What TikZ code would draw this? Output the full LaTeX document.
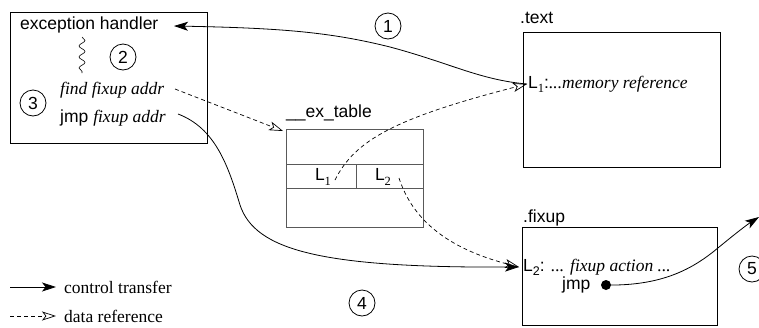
\documentclass[tikz,border=0pt]{standalone}
\usepackage{fontspec}
\setmainfont{Liberation Sans}
\newfontfamily\tms{Liberation Serif}
\usetikzlibrary{arrows.meta,decorations.pathmorphing}
\newcommand\lsub[1]{\raisebox{-0.45ex}{\fontsize{12.5}{12.5}\selectfont #1}}
\begin{document}
\begin{tikzpicture}[x=1pt,y=-1pt,
  every node/.style={font=\fontsize{17.5}{20}\selectfont, inner sep=0pt},
  lbl/.style={anchor=west},
  num/.style={draw, circle, minimum size=26pt, line width=0.8pt},
  frame/.style={draw, line width=0.8pt, anchor=north west},
  tline/.style={draw=black!65, line width=0.8pt},
  ctrl/.style={line width=0.8pt, -{Stealth[length=14pt,width=9pt,inset=3.5pt]}},
  dataref/.style={line width=0.7pt, dash pattern=on 4pt off 3pt, -{Stealth[open,length=14pt,width=9pt,inset=3.5pt]}}]
\useasboundingbox (0,0) rectangle (759,327);

% boxes
\node[frame, minimum width=197pt, minimum height=131pt] (handler) at (10,12) {};
\node[frame, minimum width=197pt, minimum height=135pt] (textsec) at (523,32) {};
\node[frame, minimum width=195pt, minimum height=98pt] (fixsec) at (522,227) {};
\node[draw=black!65, line width=0.8pt, anchor=north west, minimum width=137pt, minimum height=98pt] (tbl) at (286,129) {};
\draw[tline] (286,164) -- (423,164);
\draw[tline] (286,188) -- (423,188);
\draw[tline] (356,164) -- (356,188);

% texts
\node[lbl] (eh) at (20,25) {exception handler};
\draw[line width=0.6pt, decorate, decoration={snake, segment length=11pt, amplitude=3pt}] (82,37) -- (82,73);
\node[lbl] (find) at (60,90) {\tms\itshape find fixup addr};
\node[lbl] (jmpf) at (60,118) {jmp {\tms\itshape fixup addr}};
\node[lbl] (textlbl) at (520,18) {.text};
\node[lbl] (l1ref) at (528,84) {L\lsub{\tms 1}:{\tms\itshape ...memory reference}};
\node[lbl] (extlbl) at (286,113) {\_\_ex\_table};
\node (tl1) at (323,177) {L\lsub{\tms 1}};
\node (tl2) at (383,177) {L\lsub{\tms 2}};
\node[lbl] (fixlbl) at (523,218) {.fixup};
\node[lbl] (l2act) at (523,267) {L\lsub{2}: {\tms\itshape ... fixup action ...}};
\node[lbl] (jmp) at (562,285) {jmp};
\node[circle, fill=black, minimum size=10pt] (dot) at (606,285) {};

% numbered circles
\node[num] (n1) at (388,26) {1};
\node[num] (n2) at (123,57) {2};
\node[num] (n3) at (33,103) {3};
\node[num] (n4) at (362,303) {4};
\node[num] (n5) at (752,269) {5};

% endpoints
\coordinate (ehend) at (174,26);
\coordinate (l1in) at (527,84);
\coordinate (findout) at (175,89);
\coordinate (tbltip) at (283,131);
\coordinate (tl1out) at (335,180);
\coordinate (tl2out) at (399,178);
\coordinate (l2in) at (519,267);
\coordinate (jmpout) at (178,114);
\coordinate (exit5) at (759,217);

% connectors
\draw[ctrl] (l1in) .. controls (480,80) and (450,63) .. (390,47) .. controls (330,32) and (280,28) .. (ehend);
\draw[dataref] (findout) -- (tbltip);
\draw[dataref] (tl1out) .. controls (355,140) and (395,118) .. (l1in);
\draw[dataref] (tl2out) .. controls (412,218) and (445,248) .. (l2in);
\draw[ctrl] (jmpout) .. controls (215,128) and (228,165) .. (240,205) .. controls (255,250) and (320,268) .. (l2in);
\draw[ctrl] (dot.center) .. controls (660,286) and (690,270) .. (713,252) .. controls (730,238) and (745,226) .. (exit5);

% legend
\coordinate (lg1a) at (10,287); \coordinate (lg1b) at (56,287);
\coordinate (lg2a) at (10,316); \coordinate (lg2b) at (56,316);
\draw[ctrl] (lg1a) -- (lg1b);
\draw[dataref] (lg2a) -- (lg2b);
\node[lbl] (lgt1) at (64,287) {\tms control transfer};
\node[lbl] (lgt2) at (64,316) {\tms data reference};
\end{tikzpicture}
\end{document}
